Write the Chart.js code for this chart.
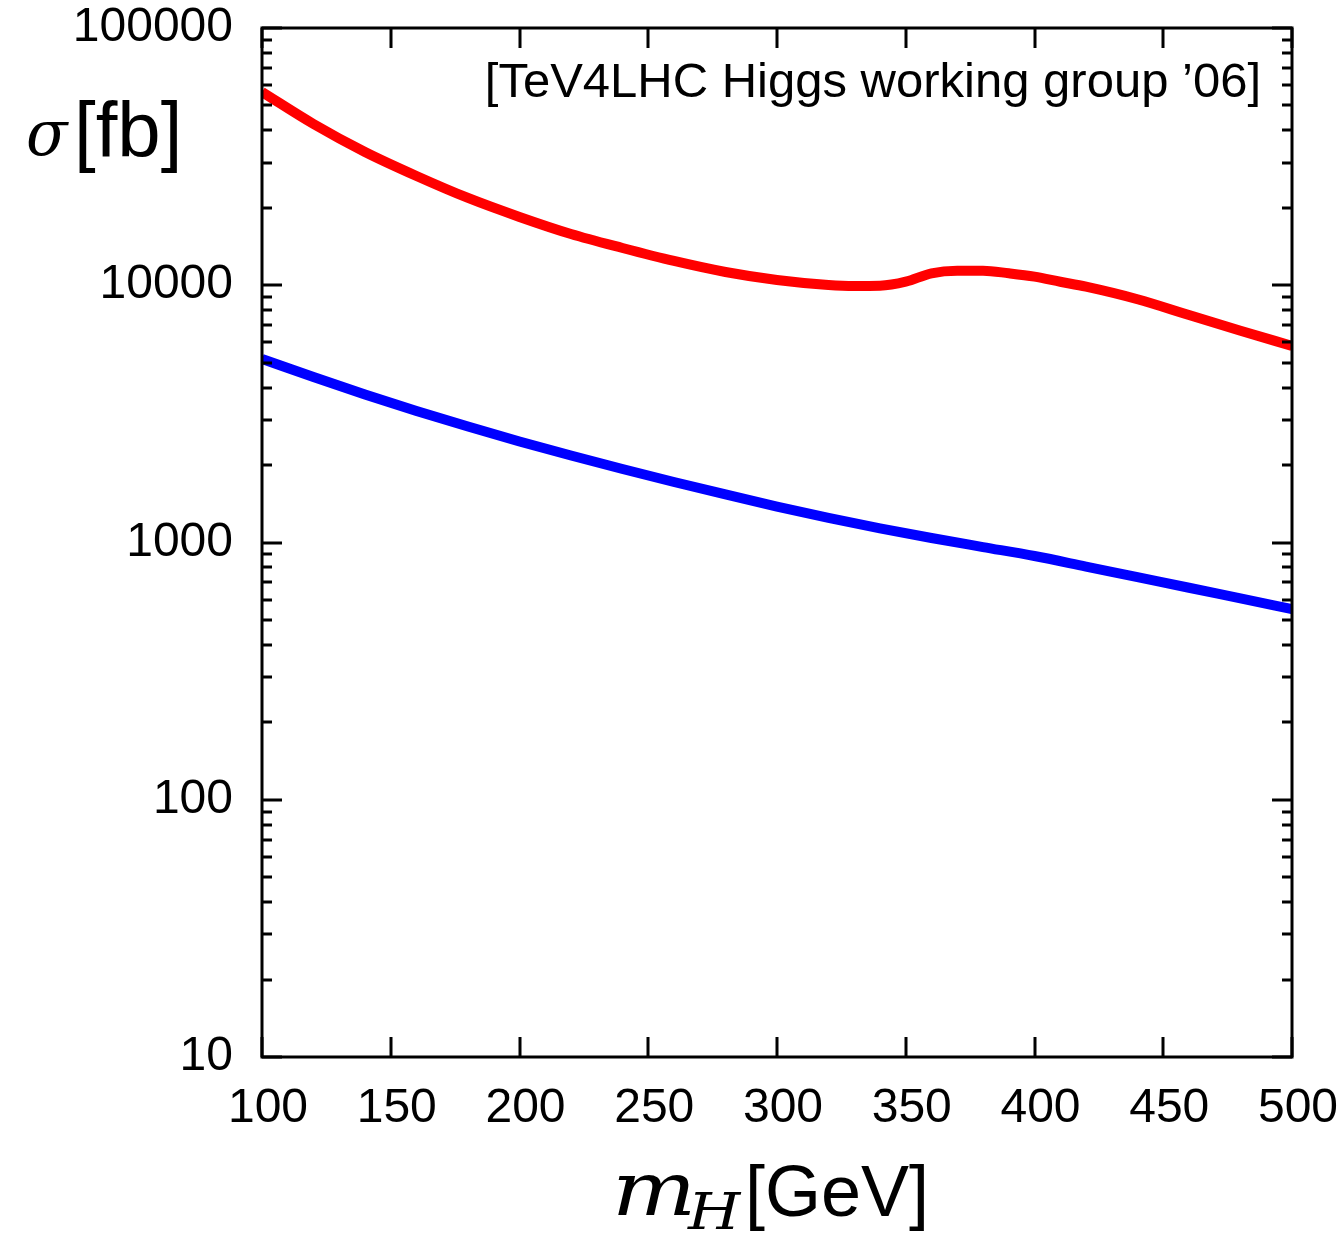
<!DOCTYPE html>
<html>
<head>
<meta charset="utf-8">
<script src="https://cdn.jsdelivr.net/npm/chart.js@4/dist/chart.umd.min.js"></script>
<style>
  html, body { margin: 0; padding: 0; background: #fff; }
  #wrap { width: 1344px; height: 1234px; }
</style>
</head>
<body>
<div id="wrap"><canvas id="c" width="1344" height="1234"></canvas></div>
<script>
// Higgs mass grid [GeV]
const massH = [100, 120, 140, 160, 180, 200, 220, 240, 260, 280, 300, 320, 330, 340, 350, 360, 370, 380, 390, 400, 410, 420, 440, 460, 480, 500];
// upper curve, sigma [fb]
const sigmaRed = [56390, 42340, 32960, 26590, 21840, 18430, 15820, 13960, 12430, 11260, 10480, 10020, 9930, 9950, 10320, 11130, 11390, 11390, 11130, 10800, 10320, 9870, 8820, 7660, 6660, 5806];
// lower curve, sigma [fb]
const massBlue = [100, 120, 140, 160, 180, 200, 220, 240, 260, 280, 300, 320, 340, 360, 380, 400, 420, 440, 460, 480, 500];
const sigmaBlue = [5168, 4399, 3762, 3245, 2824, 2470, 2179, 1931, 1719, 1537, 1380, 1246, 1134, 1041, 960, 886, 806, 733, 667, 606, 551];

const xTicks = [100, 150, 200, 250, 300, 350, 400, 450, 500];
const yTicks = [10, 100, 1000, 10000, 100000];
const yTickLabels = ['10', '100', '1000', '10000', '100000'];
const annotation = '[TeV4LHC Higgs working group \u201906]';

const SANS = "'Liberation Sans', Arial, Helvetica, sans-serif";
const SERIF = "'DejaVu Serif', 'Liberation Serif', serif";

// draw text stretched horizontally by factor sx, starting at x
function stretchedText(ctx, txt, x, y, sx) {
  ctx.save();
  ctx.translate(x, y);
  ctx.scale(sx, 1);
  ctx.fillText(txt, 0, 0);
  ctx.restore();
}

const framePlugin = {
  id: 'frame',
  afterDraw(chart) {
    const ctx = chart.ctx;
    const a = chart.chartArea;
    const xs = chart.scales.x, ys = chart.scales.y;
    ctx.save();
    ctx.strokeStyle = '#000';
    ctx.lineWidth = 3;
    ctx.lineCap = 'butt';
    // frame
    ctx.strokeRect(a.left, a.top, a.right - a.left, a.bottom - a.top);
    // x ticks, bottom and top, pointing inward
    ctx.beginPath();
    xTicks.forEach(v => {
      const px = Math.round(xs.getPixelForValue(v));
      ctx.moveTo(px, a.bottom); ctx.lineTo(px, a.bottom - 20);
      ctx.moveTo(px, a.top); ctx.lineTo(px, a.top + 20);
    });
    // y ticks: decades long, 2..9 short, on both sides
    for (let e = 1; e <= 5; e++) {
      for (let m = 1; m <= 9; m++) {
        const v = m * Math.pow(10, e);
        if (v > 100000) continue;
        const py = Math.round(ys.getPixelForValue(v));
        const len = m === 1 ? 20 : 10;
        ctx.moveTo(a.left, py); ctx.lineTo(a.left + len, py);
        ctx.moveTo(a.right, py); ctx.lineTo(a.right - len, py);
      }
    }
    ctx.stroke();

    // annotation
    ctx.fillStyle = '#000';
    ctx.textBaseline = 'alphabetic';
    ctx.textAlign = 'right';
    ctx.font = '49px ' + SANS;
    ctx.fillText(annotation, 1261, 97);

    // y title: sigma [fb]
    ctx.textAlign = 'left';
    ctx.font = 'italic 64px ' + SERIF;
    stretchedText(ctx, '\u03C3', 26, 155, 0.95);
    ctx.font = '78px ' + SANS;
    ctx.fillText('[fb]', 74, 157);

    // x title: m_H [GeV]
    ctx.font = 'italic 74px ' + SERIF;
    stretchedText(ctx, 'm', 612, 1215, 1.2);
    ctx.font = 'italic 50px ' + SERIF;
    stretchedText(ctx, 'H', 688, 1229, 1.2);
    ctx.font = '72px ' + SANS;
    ctx.fillText('[GeV]', 745, 1216);
    ctx.restore();
  }
};

new Chart(document.getElementById('c'), {
  type: 'line',
  data: {
    datasets: [
      {
        data: massH.map((m, i) => ({ x: m, y: sigmaRed[i] })),
        borderColor: '#ff0000',
        borderWidth: 10,
        pointRadius: 0,
        cubicInterpolationMode: 'monotone',
        fill: false,
        clip: 0
      },
      {
        data: massBlue.map((m, i) => ({ x: m, y: sigmaBlue[i] })),
        borderColor: '#0000ff',
        borderWidth: 10,
        pointRadius: 0,
        cubicInterpolationMode: 'monotone',
        fill: false,
        clip: 0
      }
    ]
  },
  options: {
    responsive: false,
    animation: false,
    devicePixelRatio: 1,
    layout: { padding: { top: 28, right: 52, left: 0, bottom: 0 } },
    plugins: { legend: { display: false }, tooltip: { enabled: false } },
    scales: {
      x: {
        type: 'linear',
        min: 100, max: 500,
        grid: { display: false, drawTicks: false },
        border: { display: false },
        afterBuildTicks: s => { s.ticks = xTicks.map(v => ({ value: v })); },
        afterFit: s => { s.height = 177; s.paddingLeft = 0; s.paddingRight = 0; },
        ticks: {
          color: '#000',
          font: { family: SANS, size: 48 },
          padding: 23,
          labelOffset: 6,
          maxRotation: 0,
          autoSkip: false,
          callback: v => String(v)
        }
      },
      y: {
        type: 'logarithmic',
        min: 10, max: 100000,
        grid: { display: false, drawTicks: false },
        border: { display: false },
        afterBuildTicks: s => { s.ticks = yTicks.map(v => ({ value: v })); },
        afterFit: s => { s.width = 262; s.paddingTop = 0; s.paddingBottom = 0; },
        ticks: {
          color: '#000',
          font: { family: SANS, size: 48 },
          padding: 29,
          autoSkip: false,
          callback: v => yTickLabels[yTicks.indexOf(v)]
        }
      }
    }
  },
  plugins: [framePlugin]
});
</script>
</body>
</html>
